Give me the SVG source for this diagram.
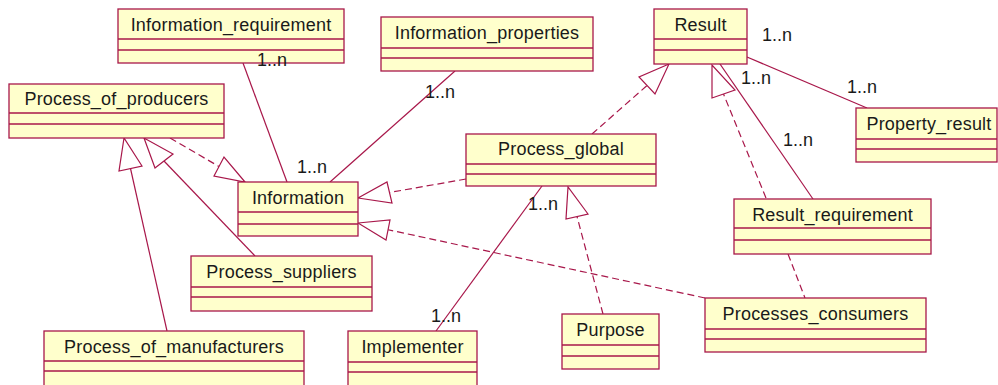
<svg xmlns="http://www.w3.org/2000/svg" width="998" height="385" viewBox="0 0 998 385">
<style>
.box{fill:#FFFFCC;stroke:#A8174A;stroke-width:1.3}
.div{stroke:#A8174A;stroke-width:1.3}
.t{font-family:"Liberation Sans",Arial,sans-serif;font-size:18px;letter-spacing:0.2px;fill:#1a1a1a;text-anchor:middle}
.m{font-family:"Liberation Sans",Arial,sans-serif;font-size:18px;fill:#1a1a1a}
.ln{stroke:#A8174A;stroke-width:1.2;fill:none}
.dl{stroke:#A8174A;stroke-width:1.2;fill:none;stroke-dasharray:7,4}
.tri{fill:#ffffff;stroke:#A8174A;stroke-width:1.2}
</style>
<rect width="998" height="385" fill="#ffffff"/>
<g id="connectors">
<line class="ln" x1="243" y1="63" x2="287" y2="182"/>
<line class="ln" x1="455" y1="71" x2="330" y2="182"/>
<line class="dl" x1="170" y1="138" x2="219" y2="166.5"/>
<polygon class="tri" points="245,182 224,157 214,176"/>
<line class="ln" x1="255" y1="256" x2="164" y2="161"/>
<polygon class="tri" points="144,138 155,168 173,154"/>
<line class="ln" x1="167" y1="331" x2="130.5" y2="168.5"/>
<polygon class="tri" points="124,138 119,171 142,166"/>
<line class="dl" x1="466" y1="179" x2="389.5" y2="192.5"/>
<polygon class="tri" points="358,198 387,182 392,203"/>
<line class="dl" x1="705" y1="298" x2="387" y2="229.5"/>
<polygon class="tri" points="358,223 390,220 386,240"/>
<line class="dl" x1="592" y1="134" x2="647" y2="85.5"/>
<polygon class="tri" points="669,64 639,77 655,94"/>
<line class="dl" x1="766" y1="198" x2="723.5" y2="94"/>
<polygon class="tri" points="712,65 712,98 735,90"/>
<line class="ln" x1="720" y1="64" x2="813" y2="199"/>
<line class="ln" x1="747" y1="57" x2="867" y2="108"/>
<line class="dl" x1="788" y1="254" x2="805" y2="298"/>
<line class="ln" x1="436" y1="331" x2="542" y2="186"/>
<line class="dl" x1="603" y1="314" x2="577" y2="216.5"/>
<polygon class="tri" points="568,187 566,219 588,214"/>
</g>
<g id="Information_requirement">
<rect class="box" x="118" y="9" width="226" height="54"/>
<line class="div" x1="118" y1="39" x2="344" y2="39"/>
<line class="div" x1="118" y1="50" x2="344" y2="50"/>
<text class="t" x="231" y="31">Information_requirement</text>
</g>
<g id="Information_properties">
<rect class="box" x="381" y="17" width="212" height="54"/>
<line class="div" x1="381" y1="48" x2="593" y2="48"/>
<line class="div" x1="381" y1="58" x2="593" y2="58"/>
<text class="t" x="487" y="39">Information_properties</text>
</g>
<g id="Result">
<rect class="box" x="654" y="9" width="93" height="55"/>
<line class="div" x1="654" y1="39" x2="747" y2="39"/>
<line class="div" x1="654" y1="50" x2="747" y2="50"/>
<text class="t" x="700.5" y="31">Result</text>
</g>
<g id="Process_of_producers">
<rect class="box" x="9" y="84" width="215" height="54"/>
<line class="div" x1="9" y1="113" x2="224" y2="113"/>
<line class="div" x1="9" y1="124" x2="224" y2="124"/>
<text class="t" x="116.5" y="105">Process_of_producers</text>
</g>
<g id="Property_result">
<rect class="box" x="856" y="108" width="141" height="54"/>
<line class="div" x1="856" y1="139" x2="997" y2="139"/>
<line class="div" x1="856" y1="149" x2="997" y2="149"/>
<text class="t" x="929" y="130">Property_result</text>
</g>
<g id="Process_global">
<rect class="box" x="466" y="134" width="190" height="52"/>
<line class="div" x1="466" y1="164" x2="656" y2="164"/>
<line class="div" x1="466" y1="174" x2="656" y2="174"/>
<text class="t" x="561" y="155">Process_global</text>
</g>
<g id="Information">
<rect class="box" x="238" y="182" width="120" height="54"/>
<line class="div" x1="238" y1="212" x2="358" y2="212"/>
<line class="div" x1="238" y1="224" x2="358" y2="224"/>
<text class="t" x="298" y="204">Information</text>
</g>
<g id="Result_requirement">
<rect class="box" x="734" y="199" width="197" height="55"/>
<line class="div" x1="734" y1="228" x2="931" y2="228"/>
<line class="div" x1="734" y1="240" x2="931" y2="240"/>
<text class="t" x="832.5" y="221">Result_requirement</text>
</g>
<g id="Process_suppliers">
<rect class="box" x="191" y="256" width="181" height="55"/>
<line class="div" x1="191" y1="287" x2="372" y2="287"/>
<line class="div" x1="191" y1="297" x2="372" y2="297"/>
<text class="t" x="281.5" y="278">Process_suppliers</text>
</g>
<g id="Processes_consumers">
<rect class="box" x="705" y="298" width="221" height="54"/>
<line class="div" x1="705" y1="329" x2="926" y2="329"/>
<line class="div" x1="705" y1="339" x2="926" y2="339"/>
<text class="t" x="815.5" y="320">Processes_consumers</text>
</g>
<g id="Purpose">
<rect class="box" x="562" y="314" width="97" height="55"/>
<line class="div" x1="562" y1="345" x2="659" y2="345"/>
<line class="div" x1="562" y1="356" x2="659" y2="356"/>
<text class="t" x="610.5" y="336">Purpose</text>
</g>
<g id="Implementer">
<rect class="box" x="348" y="331" width="129" height="58"/>
<line class="div" x1="348" y1="362" x2="477" y2="362"/>
<line class="div" x1="348" y1="372" x2="477" y2="372"/>
<text class="t" x="412.5" y="353">Implementer</text>
</g>
<g id="Process_of_manufacturers">
<rect class="box" x="44" y="331" width="260" height="58"/>
<line class="div" x1="44" y1="361" x2="304" y2="361"/>
<line class="div" x1="44" y1="371" x2="304" y2="371"/>
<text class="t" x="174" y="353">Process_of_manufacturers</text>
</g>
<g id="multiplicities">
<text class="m" x="257" y="66">1..n</text>
<text class="m" x="425" y="98">1..n</text>
<text class="m" x="297" y="173">1..n</text>
<text class="m" x="762" y="41">1..n</text>
<text class="m" x="741" y="84">1..n</text>
<text class="m" x="847" y="93">1..n</text>
<text class="m" x="783" y="146">1..n</text>
<text class="m" x="528" y="210">1..n</text>
<text class="m" x="431" y="322">1..n</text>
</g>
</svg>
